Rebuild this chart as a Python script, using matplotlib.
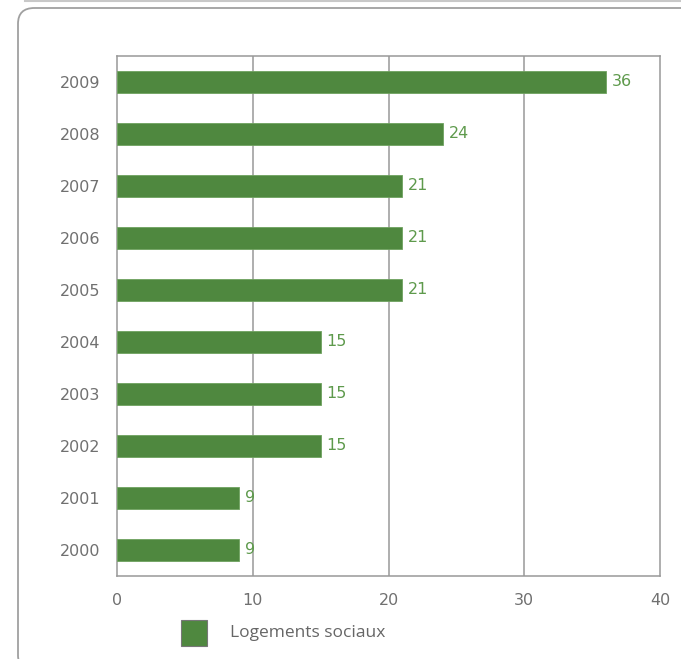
import matplotlib.pyplot as plt
from matplotlib.patches import FancyBboxPatch, Rectangle
from matplotlib.lines import Line2D

# Logements sociaux par année
annees = ['2000', '2001', '2002', '2003', '2004', '2005', '2006', '2007', '2008', '2009']
logements = [9, 9, 15, 15, 15, 21, 21, 21, 24, 36]
x_ticks = [0, 10, 20, 30, 40]

vert = '#4f883f'
vert_txt = '#5e9a4c'
gris = '#999999'
gris_txt = '#707070'

plt.rcParams['font.family'] = ['DejaVu Sans']

fig = plt.figure(figsize=(6.81, 6.59), dpi=100)

# cadre arrondi autour du graphique
cadre = FancyBboxPatch((18 / 681, -12 / 659), 1.0, 1 - 8 / 659 + 12 / 659,
                       boxstyle='round,pad=0,rounding_size=0.024',
                       transform=fig.transFigure, facecolor='white',
                       edgecolor='#a0a0a0', linewidth=1.3, zorder=-2)
fig.patches.append(cadre)
fig.lines.append(Line2D([25 / 681, 1], [1 - 1 / 659, 1 - 1 / 659],
                        transform=fig.transFigure, color='#c8c8c8', lw=1.5))

ax = fig.add_axes([117 / 681, 1 - 576 / 659, 543 / 681, 520 / 659])
ax.set_facecolor('none')

y = range(len(annees))
ax.barh(y, logements, height=0.44, color=vert, edgecolor='#6fa25f', linewidth=0.6, zorder=3)
for i, v in enumerate(logements):
    ax.text(v + 0.45, i, str(v), va='center', ha='left', color=vert_txt,
            fontsize=11.5, zorder=4)

ax.set_xlim(0, 40)
ax.set_ylim(-0.5, len(annees) - 0.5)
ax.set_xticks(x_ticks)
ax.set_yticks(list(y))
ax.set_yticklabels(annees)
ax.tick_params(length=0, colors=gris_txt, labelsize=11.5)
ax.tick_params(axis='x', pad=12)
ax.tick_params(axis='y', pad=12)

for t in x_ticks[1:-1]:
    ax.axvline(t, color=gris, lw=1.1, zorder=2)
for s in ax.spines.values():
    s.set_color(gris)
    s.set_linewidth(1.1)

# légende
fig.patches.append(Rectangle((181 / 681, 1 - 646 / 659), 26 / 681, 26 / 659,
                             transform=fig.transFigure, facecolor=vert,
                             edgecolor='#777777', linewidth=0.8))
fig.text(230 / 681, 1 - 633 / 659, 'Logements sociaux', va='center', ha='left',
         fontsize=12.5, color='#666666', family='Open Sans')

fig.savefig('out.png', dpi=100)
